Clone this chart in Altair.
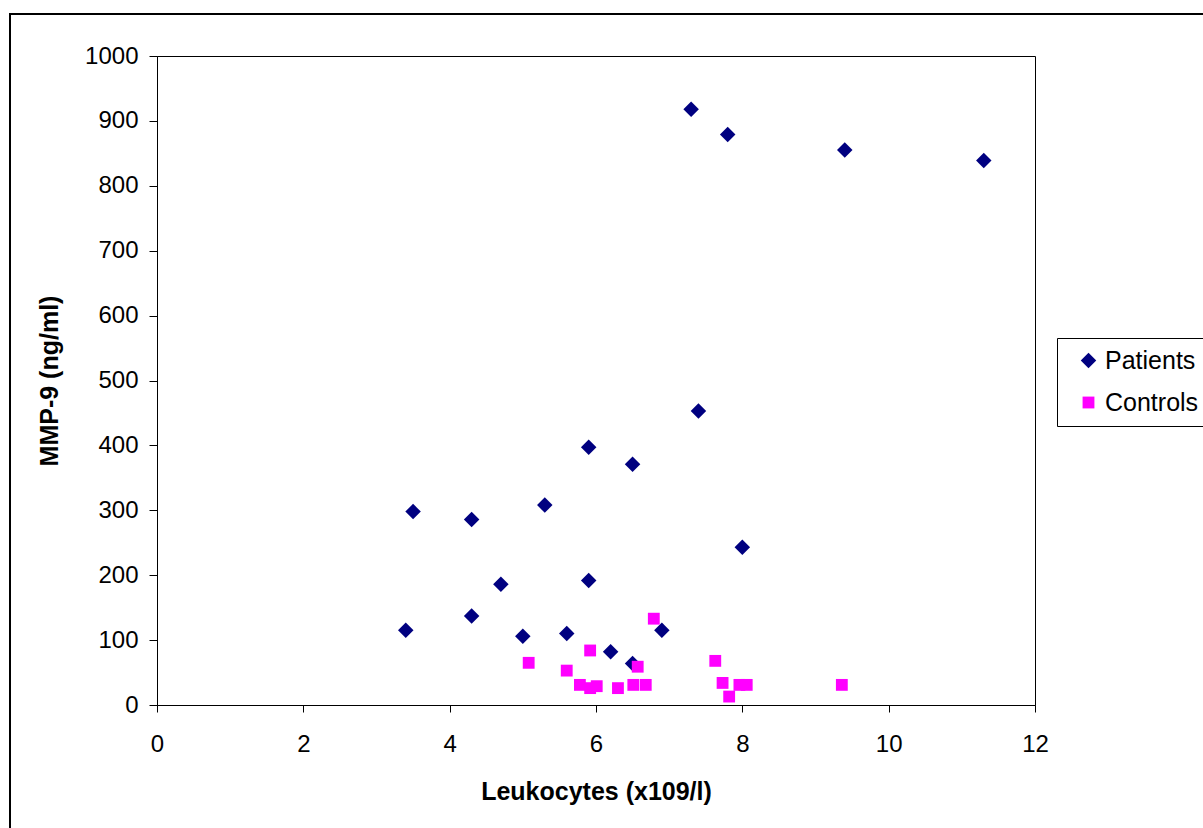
import altair as alt
import pandas as pd

patients_x = [3.4, 3.5, 4.3, 4.3, 4.7, 5.0, 5.3, 5.6, 5.9, 5.9, 6.2, 6.5, 6.5, 6.9, 7.3, 7.4, 7.8, 8.0, 9.4, 11.3]
patients_y = [115, 298, 286, 137, 186, 106, 308, 110, 397, 192, 82, 371, 64, 115, 918, 453, 879, 243, 855, 839]

controls_x = [5.08, 5.6, 5.92, 5.78, 5.92, 6.01, 6.3, 6.57, 6.51, 6.68, 6.79, 7.63, 7.73, 7.82, 7.96, 8.06, 9.36]
controls_y = [65, 53, 84, 31, 26, 29, 26, 59, 31, 31, 133, 68, 34, 13, 31, 31, 31]

series = ["Patients", "Controls"]
colors = ["#000080", "#FF00FF"]
shapes = ["diamond", "square"]
sizes = [240, 140]

df = pd.DataFrame(
    {
        "x": patients_x + controls_x,
        "y": patients_y + controls_y,
        "series": ["Patients"] * len(patients_x) + ["Controls"] * len(controls_x),
    }
)

FONT = "Liberation Sans"

frame = alt.Chart(pd.DataFrame({"a": [0]})).mark_rect(
    fill=None, stroke="black", strokeWidth=2
).encode(
    x=alt.value(-147), x2=alt.value(1060), y=alt.value(-42), y2=alt.value(790)
)

points = alt.Chart(df).mark_point(filled=True, opacity=1).encode(
    x=alt.X(
        "x:Q",
        title="Leukocytes (x109/l)",
        scale=alt.Scale(domain=[0, 12], nice=False, zero=False),
        axis=alt.Axis(values=[0, 2, 4, 6, 8, 10, 12], grid=False, tickSize=7,
                      labelPadding=20, titlePadding=23, format="d", labelFlush=False),
    ),
    y=alt.Y(
        "y:Q",
        title="MMP-9 (ng/ml)",
        scale=alt.Scale(domain=[0, 1000], nice=False),
        axis=alt.Axis(values=list(range(0, 1001, 100)), grid=False, tickSize=8,
                      labelPadding=11, titlePadding=22, format="d", labelFlush=False),
    ),
    color=alt.Color("series:N", scale=alt.Scale(domain=series, range=colors),
                    legend=alt.Legend(title=None, orient="none", legendX=900, legendY=282)),
    shape=alt.Shape("series:N", scale=alt.Scale(domain=series, range=shapes),
                    legend=alt.Legend(title=None, orient="none", legendX=900, legendY=282)),
    size=alt.Size("series:N", scale=alt.Scale(domain=series, range=sizes), legend=None),
)

chart = alt.layer(frame, points).properties(
    width=878,
    height=649,
    background="white",
    autosize=alt.AutoSizeParams(type="none"),
    padding={"left": 157, "top": 56, "right": 168, "bottom": 123},
).configure_view(
    stroke="black", strokeWidth=1
).configure_axis(
    domainColor="black", tickColor="black", labelColor="black", titleColor="black",
    labelFont=FONT, titleFont=FONT, labelFontSize=24, titleFontSize=25,
    titleFontWeight="bold", labelFontWeight="normal",
).configure_legend(
    labelFont=FONT, labelFontSize=25, labelColor="black",
    strokeColor="black", fillColor="white", padding=10, rowPadding=16,
    symbolSize=120, labelOffset=4, symbolOffset=9, symbolStrokeWidth=0, cornerRadius=0,
)

chart.save("out.html", embed_options={"renderer": "svg", "actions": False})
